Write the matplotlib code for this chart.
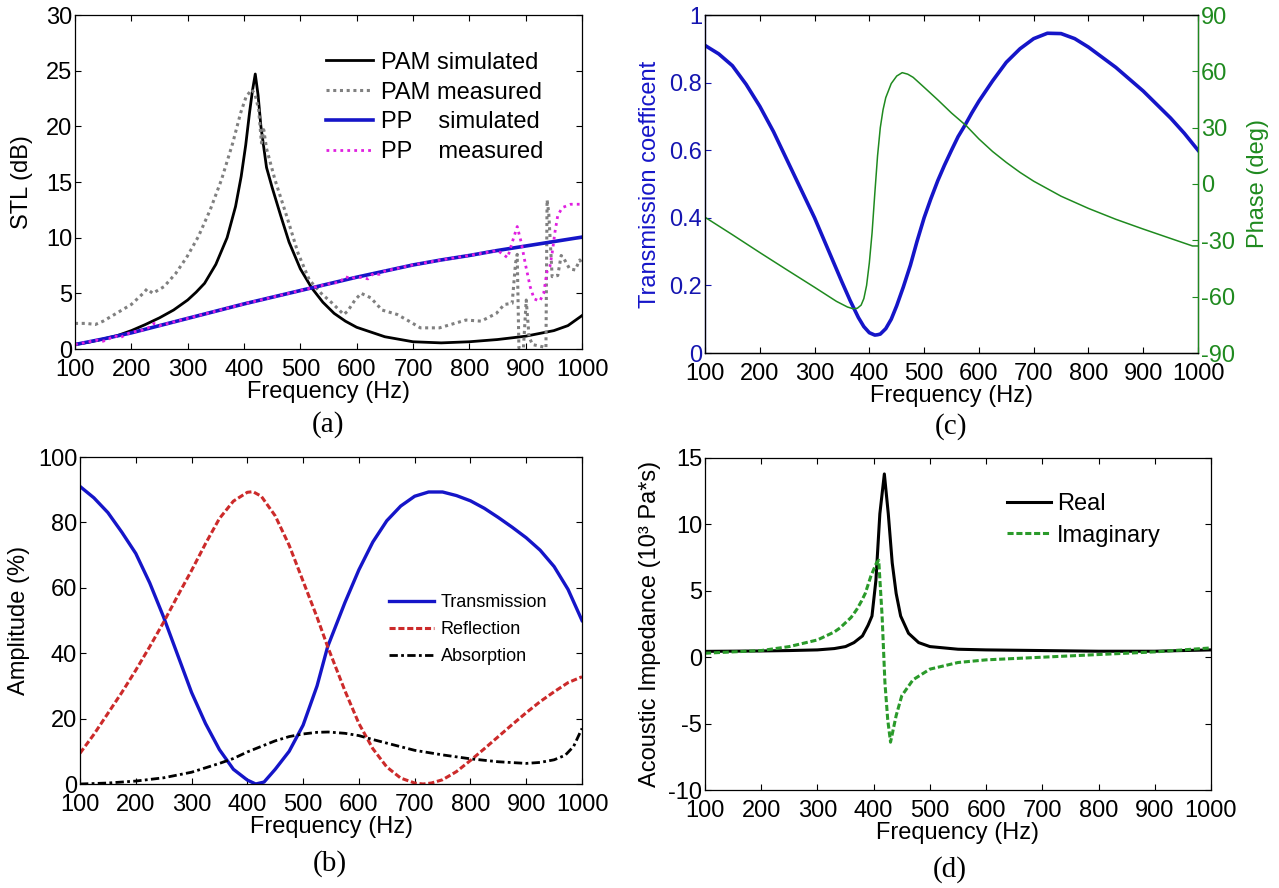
import matplotlib
matplotlib.use("Agg")
import matplotlib.pyplot as plt

plt.rcParams['font.family'] = ['Liberation Sans', 'DejaVu Sans']
plt.rcParams['font.size'] = 17
plt.rcParams['axes.linewidth'] = 0.9
plt.rcParams['axes.unicode_minus'] = False
plt.rcParams['xtick.direction'] = 'in'
plt.rcParams['ytick.direction'] = 'in'
plt.rcParams['xtick.major.size'] = 4.5
plt.rcParams['ytick.major.size'] = 4.5
plt.rcParams['xtick.major.pad'] = 7.5
plt.rcParams['ytick.major.pad'] = 2

# ---------------- data ----------------
# (a) STL
pam_sim_f = [100, 125, 150, 175, 200, 225, 250, 275, 300, 315, 330, 350, 370, 385, 395, 403, 410, 415, 420,
             425, 430, 440, 450, 465, 480, 500, 520, 540, 560, 580, 600, 650, 700, 750, 800, 850, 900, 950,
             975, 1000]
pam_sim_v = [0.4, 0.62, 0.9, 1.2, 1.65, 2.2, 2.8, 3.5, 4.4, 5.1, 5.9, 7.6, 10.0, 12.8, 15.5, 18.3, 21.3, 23.2,
             24.7, 22.8, 20.0, 16.3, 14.5, 12.0, 9.6, 7.2, 5.5, 4.2, 3.2, 2.5, 1.95, 1.1, 0.65, 0.55, 0.65, 0.85,
             1.15, 1.65, 2.1, 3.0]

pam_meas_f = [100, 120, 136, 150, 170, 200, 221, 228, 238, 258, 279, 299, 319, 340, 360, 380, 394, 404, 414,
              420, 426, 431, 435, 440, 455, 476, 496, 516, 537, 557, 577, 584, 597, 608, 625, 645, 672, 693,
              713, 747, 767, 794, 821, 848, 862, 876, 882, 885, 888, 896, 901, 906, 912, 930, 936, 938, 941,
              947, 957, 963, 967, 978, 988, 996, 1000]
pam_meas_v = [2.3, 2.3, 2.2, 2.5, 3.1, 4.0, 5.0, 5.4, 5.0, 5.6, 6.8, 8.3, 10.1, 12.5, 15.2, 18.5, 21.2, 22.7, 23.3,
              22.8, 21.5, 18.5, 19.7, 18.0, 15.2, 11.9, 8.6, 6.2, 5.0, 4.1, 3.1, 3.4, 4.4, 5.0, 4.6, 3.5, 3.1, 2.5,
              1.9, 1.9, 2.2, 2.6, 2.5, 3.2, 4.0, 4.1, 7.7, 8.5, 0.1, 0.1, 4.4, 1.1, 0.4, 0.2, 0.1, 13.4, 12.2,
              6.5, 6.6, 8.4, 8.2, 7.2, 7.1, 8.0, 7.7]

pp_sim_f = [100, 150, 200, 250, 300, 350, 400, 450, 500, 550, 600, 650, 700, 750, 800, 850, 900, 950, 1000]
pp_sim_v = [0.4, 0.9, 1.45, 2.1, 2.75, 3.4, 4.05, 4.65, 5.25, 5.85, 6.45, 7.0, 7.55, 8.0, 8.4, 8.85, 9.25, 9.65, 10.05]

pp_meas_f = [100, 110, 120, 130, 140, 150, 160, 170, 180, 190, 200, 210, 220, 230, 240, 250, 300, 350, 400,
             450, 500, 550, 570, 580, 590, 600, 610, 620, 630, 640, 650, 700, 750, 800, 850, 860, 868, 875,
             885, 892, 900, 908, 915, 925, 932, 938, 943, 947, 952, 957, 965, 980, 1000]
pp_meas_v = [0.4, 0.5, 0.6, 0.7, 0.8, 0.7, 0.9, 1.2, 1.0, 1.3, 1.5, 1.6, 1.7, 1.9, 2.3, 2.1, 2.75, 3.4, 4.05,
             4.65, 5.25, 5.85, 6.0, 6.5, 6.3, 6.5, 6.4, 6.3, 6.8, 6.7, 7.0, 7.55, 8.0, 8.4, 8.85, 8.5, 8.2, 9.4,
             11.0, 9.6, 7.5, 5.6, 4.5, 4.3, 5.0, 7.0, 7.4, 8.6, 10.5, 12.0, 12.7, 13.0, 13.0]

# (c) transmission coefficient and phase
tc_f = [100, 125, 150, 175, 200, 225, 250, 275, 300, 325, 350, 365, 380, 390, 400, 410, 415, 420, 430, 440,
        450, 462, 475, 487, 500, 512, 525, 537, 550, 562, 575, 587, 600, 625, 650, 675, 700, 725, 750, 775,
        800, 825, 850, 875, 900, 925, 950, 975, 1000]
tc_v = [0.91, 0.885, 0.85, 0.795, 0.73, 0.655, 0.57, 0.485, 0.40, 0.305, 0.21, 0.155, 0.105, 0.078, 0.06,
        0.053, 0.054, 0.056, 0.072, 0.10, 0.14, 0.195, 0.26, 0.33, 0.40, 0.455, 0.51, 0.555, 0.60, 0.64, 0.675,
        0.71, 0.745, 0.805, 0.86, 0.90, 0.93, 0.946, 0.945, 0.93, 0.905, 0.875, 0.845, 0.81, 0.775, 0.735,
        0.695, 0.65, 0.60]
ph_f = [100, 150, 200, 250, 300, 340, 360, 370, 378, 385, 390, 395, 400, 405, 410, 415, 420, 425, 430, 440,
        450, 460, 470, 480, 500, 525, 550, 577, 600, 625, 650, 675, 700, 750, 800, 850, 900, 950, 975, 990, 1000]
ph_v = [-17.7, -27.0, -36.5, -45.8, -55.0, -62.5, -65.5, -66.4, -66.2, -64.5, -61.0, -54.0, -42.0, -26.0, -5.0,
        15.0, 30.0, 39.5, 46.0, 53.5, 57.5, 59.3, 58.5, 56.8, 51.5, 44.8, 37.8, 31.0, 24.0, 17.3, 11.5, 6.2,
        1.5, -6.5, -13.0, -18.8, -24.0, -29.0, -31.5, -33.0, -33.0]

# (b) amplitudes
trans_f = [100, 125, 150, 175, 200, 225, 250, 275, 300, 325, 350, 375, 400, 415, 430, 450, 475, 500, 525, 544,
           575, 600, 625, 650, 675, 700, 725, 750, 775, 800, 825, 850, 875, 900, 925, 950, 975, 1000]
trans_v = [91, 87.5, 83, 77, 70.5, 61.5, 51, 39.5, 28, 18.5, 10.5, 4.5, 1.2, 0.0, 0.6, 4.5, 10, 18, 30, 42,
           55.5, 65.5, 74, 80.5, 85, 88, 89.3, 89.3, 88.2, 86.6, 84.3, 81.5, 78.5, 75.3, 71.5, 66.5, 59.5, 50]
refl_f = [100, 125, 150, 175, 200, 225, 250, 275, 300, 325, 350, 375, 400, 410, 425, 450, 475, 500, 525, 544,
          575, 600, 625, 650, 675, 700, 715, 730, 750, 775, 800, 825, 850, 875, 900, 925, 950, 975, 1000]
refl_v = [9.4, 15.2, 21.6, 28, 34.8, 42, 49.5, 57.5, 65.3, 73.5, 81.2, 86.5, 89.2, 89.4, 88, 82, 73, 62, 51, 42,
          28.5, 18.5, 10.8, 5.2, 1.8, 0.3, 0.0, 0.3, 1.3, 3.8, 7.2, 10.8, 14.5, 18.2, 21.8, 25.2, 28.2, 31, 32.8]
abs_f = [100, 150, 200, 250, 300, 350, 375, 400, 425, 450, 475, 500, 525, 545, 575, 600, 625, 650, 675, 700,
         750, 800, 850, 900, 925, 950, 970, 985, 1000]
abs_v = [0.0, 0.3, 0.9, 1.9, 3.6, 6.3, 7.8, 9.8, 11.5, 13.2, 14.5, 15.3, 15.8, 15.9, 15.5, 14.8, 13.6, 12.5,
         11.4, 10.3, 8.9, 7.7, 6.8, 6.3, 6.6, 7.4, 8.8, 11.5, 17.0]

# (d) acoustic impedance
re_f = [100, 200, 250, 300, 330, 350, 365, 380, 390, 397, 404, 411, 419, 426, 433, 440, 448, 462, 480, 500,
        550, 600, 700, 800, 900, 1000]
re_v = [0.44, 0.47, 0.5, 0.55, 0.65, 0.8, 1.1, 1.6, 2.4, 3.1, 5.8, 10.8, 13.8, 10.8, 7.1, 4.8, 3.1, 1.8, 1.1,
        0.8, 0.6, 0.55, 0.5, 0.45, 0.45, 0.55]
im_f = [100, 200, 250, 300, 330, 340, 350, 360, 370, 378, 385, 395, 400, 405, 409, 415, 420, 425, 430, 440,
        450, 470, 500, 550, 600, 700, 800, 900, 1000]
im_v = [0.3, 0.5, 0.8, 1.3, 1.9, 2.2, 2.6, 3.0, 3.6, 4.2, 4.8, 6.1, 6.6, 7.1, 7.3, 3.1, -1.9, -4.7, -6.4,
        -4.4, -2.9, -1.7, -0.9, -0.4, -0.2, 0.0, 0.2, 0.4, 0.7]

freq_ticks = [100, 200, 300, 400, 500, 600, 700, 800, 900, 1000]

# ---------------- figure ----------------
W, H = 1279, 888
fig = plt.figure(figsize=(W / 100, H / 100), dpi=100)


def add_ax(l, t, r, b):
    return fig.add_axes([l / W, 1 - b / H, (r - l) / W, (b - t) / H])


BLUE = '#1515c8'
GRAY = '#808080'
MAG = '#e020e0'
RED = '#cc2a2a'
GREEN = '#1f8a1f'
GREEN_D = '#2a9a2a'


def style(ax, mirror_y=True):
    ax.set_xlim(100, 1000)
    ax.set_xticks(freq_ticks)
    ax.tick_params(top=True, right=mirror_y, labelsize=17)
    ax.set_xlabel('Frequency (Hz)', fontsize=17, labelpad=0)


# (a)
axa = add_ax(75, 15, 582, 349)
axa.plot(pam_sim_f, pam_sim_v, color='black', lw=2.0, label='PAM simulated')
axa.plot(pam_meas_f, pam_meas_v, color=GRAY, lw=2.2, ls=(0, (1, 1.2)), label='PAM measured')
axa.plot(pp_sim_f, pp_sim_v, color=BLUE, lw=2.6, label='PP    simulated')
axa.plot(pp_meas_f, pp_meas_v, color=MAG, lw=2.0, ls=(0, (1, 1.5)), label='PP    measured')
style(axa)
axa.set_ylim(0, 30)
axa.set_yticks([0, 5, 10, 15, 20, 25, 30])
axa.set_ylabel('STL (dB)', fontsize=17, va='center')
axa.yaxis.set_label_coords(-0.105, 0.5)
axa.legend(loc='upper left', bbox_to_anchor=(0.496, 0.89), frameon=False, fontsize=17,
           handlelength=1.95, handletextpad=0.35, labelspacing=0.33, borderpad=0, borderaxespad=0)

# (c)
axc = add_ax(705, 15, 1198, 353)
axc.plot(tc_f, tc_v, color=BLUE, lw=2.6)
style(axc)
axc.set_ylim(0, 1)
axc.set_yticks([0, 0.2, 0.4, 0.6, 0.8, 1.0])
axc.set_yticklabels(['0', '0.2', '0.4', '0.6', '0.8', '1'])
axc.tick_params(axis='y', colors='#1515b0', labelcolor='#1515b0')
axc.spines['left'].set_color('#1515b0')
axc.set_ylabel('Transmission coefficent', fontsize=17, color=BLUE, va='center')
axc.yaxis.set_label_coords(-0.112, 0.5)
axc2 = axc.twinx()
axc2.plot(ph_f, ph_v, color=GREEN, lw=1.1)
axc2.set_ylim(-90, 90)
axc2.set_yticks([-90, -60, -30, 0, 30, 60, 90])
axc2.tick_params(axis='y', colors=GREEN, labelcolor=GREEN, labelsize=17, pad=2)
axc2.spines['right'].set_color(GREEN)
axc2.set_ylabel('Phase (deg)', fontsize=17, color=GREEN, va='center', rotation=90)
axc2.yaxis.set_label_coords(1.122, 0.5)

# (b)
axb = add_ax(80, 457, 582, 784)
axb.plot(trans_f, trans_v, color=BLUE, lw=2.4, label='Transmission')
axb.plot(refl_f, refl_v, color=RED, lw=2.2, ls=(0, (2, 0.9)), label='Reflection')
axb.plot(abs_f, abs_v, color='black', lw=2.0, ls=(0, (3, 1.2, 1, 1.2)), label='Absorption')
style(axb)
axb.set_ylim(0, 100)
axb.set_yticks([0, 20, 40, 60, 80, 100])
axb.set_ylabel('Amplitude (%)', fontsize=17, va='center')
axb.yaxis.set_label_coords(-0.121, 0.5)
axb.legend(loc='upper left', bbox_to_anchor=(0.615, 0.58), frameon=False, fontsize=13,
           handlelength=2.5, handletextpad=0.39, labelspacing=0.55, borderpad=0, borderaxespad=0)

# (d)
axd = add_ax(705, 458, 1211, 790)
axd.plot(re_f, re_v, color='black', lw=2.2, label='Real')
axd.plot(im_f, im_v, color=GREEN_D, lw=2.2, ls=(0, (2, 0.9)), label='Imaginary')
style(axd)
axd.set_ylim(-10, 15)
axd.set_yticks([-10, -5, 0, 5, 10, 15])
axd.set_ylabel('Acoustic Impedance (10³ Pa*s)', fontsize=17, va='center')
axd.yaxis.set_label_coords(-0.109, 0.5)
axd.legend(loc='upper left', bbox_to_anchor=(0.596, 0.894), frameon=False, fontsize=17,
           handlelength=1.9, handletextpad=0.23, labelspacing=0.4, borderpad=0, borderaxespad=0)

# panel captions
for txt, x, y in [('(a)', 328, 425), ('(c)', 951, 427), ('(b)', 330, 864), ('(d)', 950, 870)]:
    fig.text(x / W, 1 - y / H, txt, ha='center', va='center', fontsize=21,
             family=['Liberation Serif', 'DejaVu Serif'])

fig.savefig('out.png', dpi=100)
